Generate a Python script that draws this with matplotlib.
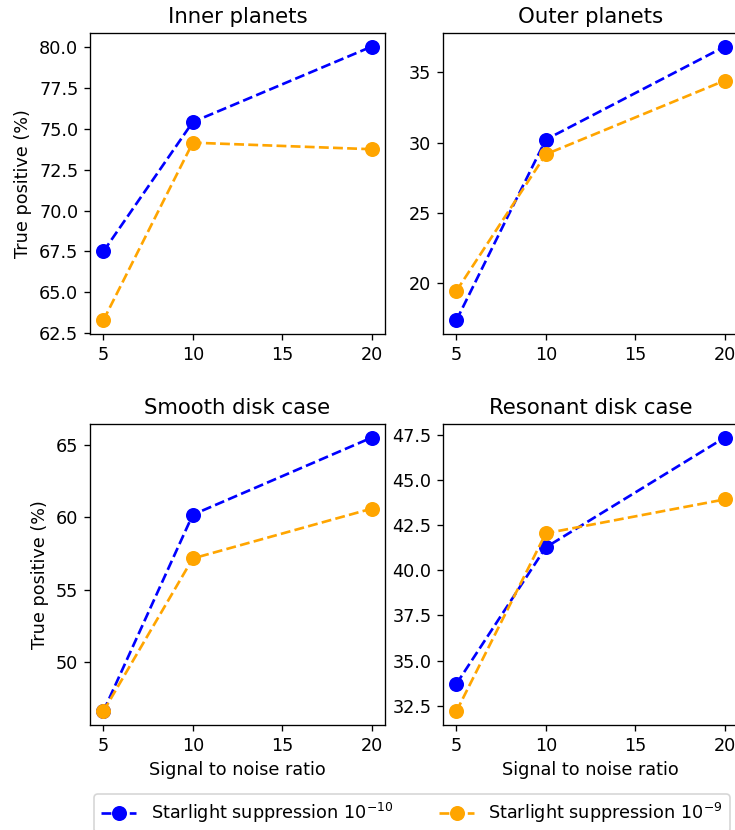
import matplotlib
matplotlib.use("Agg")
import matplotlib.pyplot as plt

plt.rcParams['font.size'] = 10.6

snr = [5, 10, 20]

titles = ["Inner planets", "Outer planets", "Smooth disk case", "Resonant disk case"]

# true positive (%) for suppression 1e-10 and 1e-9
tp_1e10 = [
    [67.5, 75.4, 80.0],
    [17.34, 30.21, 36.83],
    [46.57, 60.19, 65.53],
    [33.7, 41.28, 47.37],
]
tp_1e9 = [
    [63.3, 74.14, 73.74],
    [19.43, 29.16, 34.41],
    [46.57, 57.16, 60.61],
    [32.18, 42.06, 43.94],
]

yticks = [
    [62.5, 65.0, 67.5, 70.0, 72.5, 75.0, 77.5, 80.0],
    [20, 25, 30, 35],
    [50, 55, 60, 65],
    [32.5, 35.0, 37.5, 40.0, 42.5, 45.0, 47.5],
]
yfmt = ["%.1f", "%d", "%d", "%.1f"]

fig = plt.figure(figsize=(735 / 120, 830 / 120), dpi=120)

# axes boxes in figure fractions
lefts = [0.1224, 0.6027, 0.1224, 0.6027]
bottoms = [0.5976, 0.5976, 0.1265, 0.1265]
w, h = 0.4014, 0.3627

for i in range(4):
    ax = fig.add_axes([lefts[i], bottoms[i], w, h])
    ax.plot(snr, tp_1e10[i], 'o--', color='blue', markersize=8, linewidth=1.6,
            label=r'Starlight suppression $10^{-10}$')
    ax.plot(snr, tp_1e9[i], 'o--', color='orange', markersize=8, linewidth=1.6,
            label=r'Starlight suppression $10^{-9}$')
    ax.set_title(titles[i])
    ax.set_xticks([5, 10, 15, 20])
    ax.set_yticks(yticks[i])
    ax.set_yticklabels([yfmt[i] % v for v in yticks[i]])
    if i % 2 == 0:
        ax.set_ylabel("True positive (%)")
    if i >= 2:
        ax.set_xlabel("Signal to noise ratio")
    if i == 0:
        handles, labels = ax.get_legend_handles_labels()

fig.legend(handles, labels, loc='upper left', ncol=2, columnspacing=2.6,
           bbox_to_anchor=(0.116, 0.054))

fig.savefig("out.png", dpi=120)
